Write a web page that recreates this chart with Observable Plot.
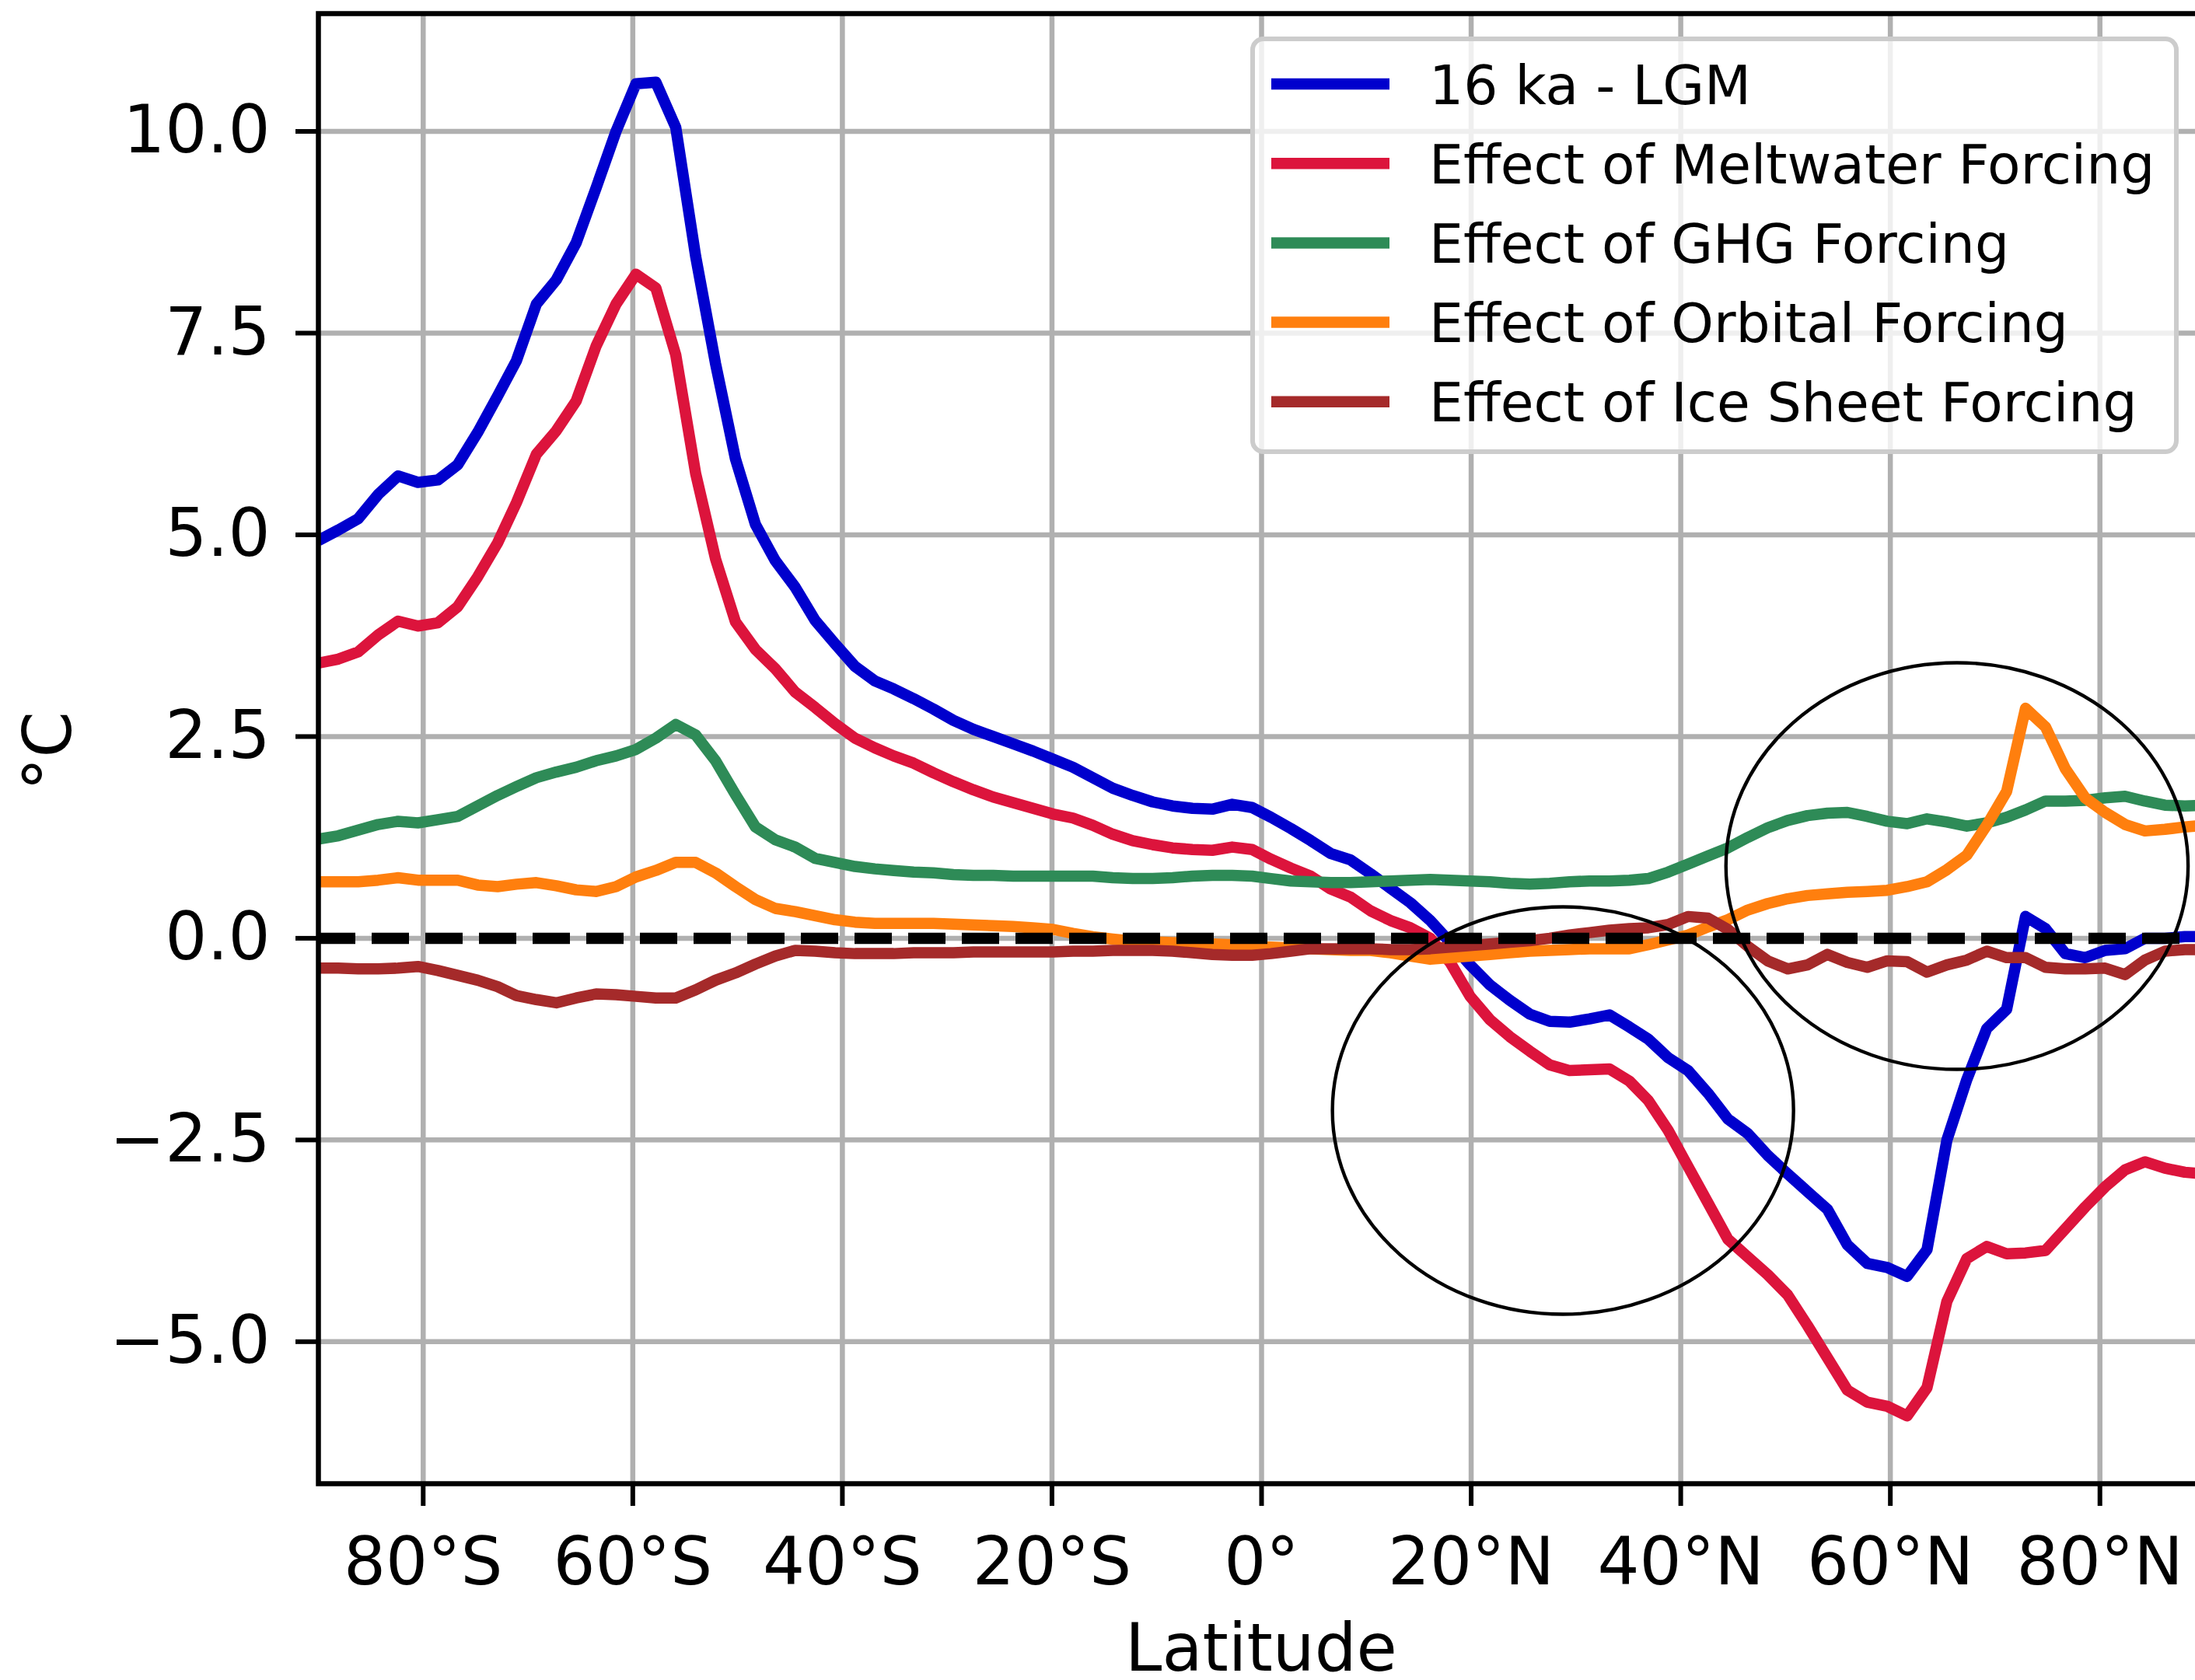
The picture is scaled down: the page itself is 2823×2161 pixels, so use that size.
<!DOCTYPE html>
<html>
<head>
<meta charset="utf-8">
<script src="https://cdn.jsdelivr.net/npm/d3@7"></script>
<script src="https://cdn.jsdelivr.net/npm/@observablehq/plot@0.6"></script>
<style>
  html, body { margin: 0; padding: 0; overflow: hidden; background: white; }
  #chart svg { max-width: none !important; display: block; }
</style>
</head>
<body>
<div id="chart"></div>
<script>
// Latitude grid (degrees)
const lat = [-90, -88.1, -86.2, -84.3, -82.4, -80.5, -78.6, -76.7, -74.8, -72.9,
  -71.1, -69.2, -67.3, -65.4, -63.5, -61.6, -59.7, -57.8, -55.9, -54.0,
  -52.1, -50.2, -48.3, -46.4, -44.5, -42.6, -40.7, -38.8, -36.9, -35.1,
  -33.2, -31.3, -29.4, -27.5, -25.6, -23.7, -21.8, -19.9, -18.0, -16.1,
  -14.2, -12.3, -10.4, -8.5, -6.6, -4.7, -2.8, -0.9, 0.9, 2.8,
  4.7, 6.6, 8.5, 10.4, 12.3, 14.2, 16.1, 18.0, 19.9, 21.8,
  23.7, 25.6, 27.5, 29.4, 31.3, 33.2, 35.1, 36.9, 38.8, 40.7,
  42.6, 44.5, 46.4, 48.3, 50.2, 52.1, 54.0, 55.9, 57.8, 59.7,
  61.6, 63.5, 65.4, 67.3, 69.2, 71.1, 72.9, 74.8, 76.7, 78.6,
  80.5, 82.4, 84.3, 86.2, 88.1, 90];

// 16 ka - LGM
const lgm = [4.93, 5.06, 5.20, 5.50, 5.73, 5.65, 5.68, 5.87, 6.27, 6.72,
  7.16, 7.86, 8.16, 8.62, 9.30, 10.0, 10.59, 10.61, 10.05, 8.45,
  7.12, 5.94, 5.13, 4.68, 4.35, 3.94, 3.65, 3.37, 3.19, 3.09,
  2.97, 2.84, 2.70, 2.59, 2.50, 2.41, 2.32, 2.22, 2.12, 1.99,
  1.86, 1.77, 1.69, 1.64, 1.61, 1.60, 1.66, 1.62, 1.50, 1.36,
  1.21, 1.05, 0.97, 0.80, 0.62, 0.44, 0.22, -0.05, -0.33, -0.58,
  -0.77, -0.94, -1.03, -1.04, -1.00, -0.95, -1.10, -1.25, -1.48, -1.64,
  -1.92, -2.24, -2.42, -2.69, -2.92, -3.14, -3.36, -3.80, -4.03, -4.08,
  -4.19, -3.86, -2.50, -1.75, -1.12, -0.88, 0.27, 0.12, -0.19, -0.24,
  -0.15, -0.13, 0.0, 0.0, 0.02, 0.02];

// Effect of Meltwater Forcing
const meltwater = [3.41, 3.46, 3.55, 3.76, 3.93, 3.87, 3.91, 4.11, 4.48, 4.90,
  5.40, 6.00, 6.29, 6.66, 7.34, 7.86, 8.23, 8.06, 7.23, 5.76,
  4.70, 3.92, 3.58, 3.34, 3.05, 2.86, 2.66, 2.48, 2.36, 2.26,
  2.17, 2.05, 1.94, 1.84, 1.75, 1.68, 1.61, 1.54, 1.49, 1.40,
  1.29, 1.21, 1.16, 1.12, 1.10, 1.09, 1.13, 1.10, 0.98, 0.87,
  0.77, 0.61, 0.51, 0.34, 0.22, 0.13, 0.0, -0.30, -0.72, -1.01,
  -1.22, -1.40, -1.57, -1.64, -1.63, -1.62, -1.77, -2.01, -2.38, -2.83,
  -3.28, -3.73, -3.95, -4.17, -4.42, -4.80, -5.20, -5.60, -5.75, -5.80,
  -5.92, -5.57, -4.50, -3.97, -3.82, -3.91, -3.90, -3.87, -3.60, -3.33,
  -3.08, -2.87, -2.77, -2.85, -2.90, -2.92];

// Effect of GHG Forcing
const ghg = [1.23, 1.27, 1.34, 1.41, 1.45, 1.43, 1.47, 1.51, 1.64, 1.77,
  1.88, 1.99, 2.06, 2.12, 2.20, 2.26, 2.34, 2.48, 2.65, 2.52,
  2.20, 1.78, 1.38, 1.22, 1.13, 0.99, 0.94, 0.89, 0.86, 0.84,
  0.82, 0.81, 0.79, 0.78, 0.78, 0.77, 0.77, 0.77, 0.77, 0.77,
  0.75, 0.74, 0.74, 0.75, 0.77, 0.78, 0.78, 0.77, 0.74, 0.71,
  0.70, 0.69, 0.69, 0.70, 0.71, 0.72, 0.73, 0.72, 0.71, 0.70,
  0.68, 0.67, 0.68, 0.70, 0.71, 0.71, 0.72, 0.74, 0.82, 0.92,
  1.02, 1.12, 1.25, 1.37, 1.46, 1.52, 1.55, 1.56, 1.51, 1.45,
  1.42, 1.48, 1.44, 1.39, 1.43, 1.50, 1.59, 1.70, 1.70, 1.71,
  1.74, 1.76, 1.70, 1.65, 1.64, 1.65];

// Effect of Orbital Forcing
const orbital = [0.70, 0.70, 0.70, 0.72, 0.75, 0.72, 0.72, 0.72, 0.66, 0.64,
  0.67, 0.69, 0.65, 0.60, 0.58, 0.64, 0.76, 0.84, 0.94, 0.94,
  0.81, 0.64, 0.48, 0.37, 0.33, 0.28, 0.23, 0.20, 0.185, 0.185,
  0.185, 0.185, 0.175, 0.165, 0.155, 0.145, 0.13, 0.11, 0.06, 0.02,
  -0.01, -0.035, -0.045, -0.055, -0.06, -0.07, -0.08, -0.10, -0.11, -0.12,
  -0.13, -0.14, -0.15, -0.15, -0.18, -0.22, -0.26, -0.24, -0.22, -0.20,
  -0.18, -0.16, -0.15, -0.14, -0.13, -0.13, -0.13, -0.08, -0.02, 0.04,
  0.14, 0.23, 0.35, 0.43, 0.49, 0.53, 0.55, 0.57, 0.58, 0.595,
  0.64, 0.70, 0.85, 1.03, 1.40, 1.82, 2.85, 2.62, 2.10, 1.74,
  1.56, 1.41, 1.33, 1.35, 1.38, 1.40];

// Effect of Ice Sheet Forcing
const iceSheet = [-0.37, -0.37, -0.38, -0.38, -0.37, -0.35, -0.40, -0.46, -0.52, -0.60,
  -0.71, -0.76, -0.80, -0.74, -0.69, -0.70, -0.72, -0.74, -0.74, -0.64,
  -0.52, -0.43, -0.32, -0.22, -0.15, -0.16, -0.18, -0.19, -0.19, -0.19,
  -0.18, -0.18, -0.18, -0.17, -0.17, -0.17, -0.17, -0.17, -0.16, -0.16,
  -0.15, -0.15, -0.15, -0.16, -0.18, -0.20, -0.21, -0.21, -0.19, -0.16,
  -0.13, -0.13, -0.13, -0.13, -0.14, -0.14, -0.13, -0.11, -0.09, -0.07,
  -0.05, -0.03, 0.0, 0.04, 0.07, 0.10, 0.12, 0.13, 0.17, 0.27,
  0.25, 0.11, -0.10, -0.28, -0.38, -0.33, -0.20, -0.30, -0.36, -0.28,
  -0.29, -0.42, -0.33, -0.27, -0.16, -0.24, -0.24, -0.36, -0.38, -0.38,
  -0.37, -0.45, -0.27, -0.16, -0.14, -0.14];

const seriesNames = ["16 ka - LGM", "Effect of Meltwater Forcing", "Effect of GHG Forcing",
  "Effect of Orbital Forcing", "Effect of Ice Sheet Forcing"];
const seriesValues = [lgm, meltwater, ghg, orbital, iceSheet];
const seriesColors = ["#0000cd", "#dc143c", "#2e8b57", "#ff7f0e", "#a52a2a"];

const xTicks = [-80, -60, -40, -20, 0, 20, 40, 60, 80];
const yTicks = [-5, -2.5, 0, 2.5, 5, 7.5, 10];

// Highlight ellipses (centre latitude, centre °C, half-width in degrees, half-height in °C)
const ellipses = [
  {lat: 28.8, val: -2.14, rLat: 22.0, rVal: 2.525},
  {lat: 66.4, val: 0.89, rLat: 22.05, rVal: 2.52}
];

const fmtLat = d => d === 0 ? "0°" : `${Math.abs(d)}°${d < 0 ? "S" : "N"}`;
const fmtY = d => (d < 0 ? "\u2212" : "") + Math.abs(d).toFixed(1);

const FONT = "DejaVu Sans";
const LW = 14.5;

const plot = Plot.plot({
  width: 2840,
  height: 2161,
  marginLeft: 409,
  marginRight: 5,
  marginTop: 17,
  marginBottom: 253,
  x: {domain: [-90, 90]},
  y: {domain: [-6.76, 11.46]},
  style: {background: "white", fontFamily: FONT, fontSize: "85px", color: "black", maxWidth: "none", overflow: "hidden"},
  marks: [
    Plot.gridX(xTicks, {stroke: "#b0b0b0", strokeOpacity: 1, strokeWidth: 6.5}),
    Plot.gridY(yTicks, {stroke: "#b0b0b0", strokeOpacity: 1, strokeWidth: 6.5}),
    Plot.axisX(xTicks, {tickSize: 29, tickPadding: 40, tickFormat: fmtLat, strokeWidth: 6, fontSize: 85, label: null}),
    Plot.axisY(yTicks, {tickSize: 29, tickPadding: 33, tickFormat: fmtY, strokeWidth: 6, fontSize: 85, label: null}),
    ...seriesValues.map((vals, k) => Plot.line(vals, {
      x: (d, i) => lat[i], y: d => d,
      stroke: seriesColors[k], strokeWidth: LW,
      strokeLinejoin: "round", strokeLinecap: "butt", clip: true
    })),
    Plot.ruleY([0], {stroke: "black", strokeWidth: 14.5, strokeDasharray: "48,21"}),
    Plot.frame({stroke: "black", strokeWidth: 6.5})
  ]
});

document.getElementById("chart").appendChild(plot);

const svg = d3.select(plot);
const sx = plot.scale("x");
const sy = plot.scale("y");

// Ellipses placed through the plot's own scales
for (const e of ellipses) {
  const cx = sx.apply(e.lat), cy = sy.apply(e.val);
  svg.append("ellipse")
    .attr("cx", cx).attr("cy", cy)
    .attr("rx", Math.abs(sx.apply(e.lat + e.rLat) - cx))
    .attr("ry", Math.abs(sy.apply(e.val + e.rVal) - cy))
    .attr("fill", "none").attr("stroke", "black").attr("stroke-width", 4.4);
}

// Axis labels
svg.append("text")
  .attr("x", (sx.range[0] + sx.range[1]) / 2).attr("y", 2149)
  .attr("text-anchor", "middle").attr("font-family", FONT).attr("font-size", 85)
  .attr("fill", "black").text("Latitude");
svg.append("text")
  .attr("transform", "translate(91,966) rotate(-90)")
  .attr("text-anchor", "middle").attr("font-family", FONT).attr("font-size", 85)
  .attr("fill", "black").text("°C");

// Legend
const lg = svg.append("g").attr("text-anchor", "start");
lg.append("rect")
  .attr("x", 1611).attr("y", 50).attr("width", 1188).attr("height", 531)
  .attr("rx", 14).attr("ry", 14)
  .attr("fill", "white").attr("fill-opacity", 0.8)
  .attr("stroke", "#cccccc").attr("stroke-width", 6);
seriesNames.forEach((name, k) => {
  const yRow = 108 + 102.2 * k;
  lg.append("line")
    .attr("x1", 1635).attr("x2", 1787).attr("y1", yRow).attr("y2", yRow)
    .attr("stroke", seriesColors[k]).attr("stroke-width", LW);
  lg.append("text")
    .attr("x", 1838).attr("y", yRow + 25.5)
    .attr("text-anchor", "start")
    .attr("font-family", FONT).attr("font-size", 69.5).attr("fill", "black")
    .text(name);
});
</script>
</body>
</html>
